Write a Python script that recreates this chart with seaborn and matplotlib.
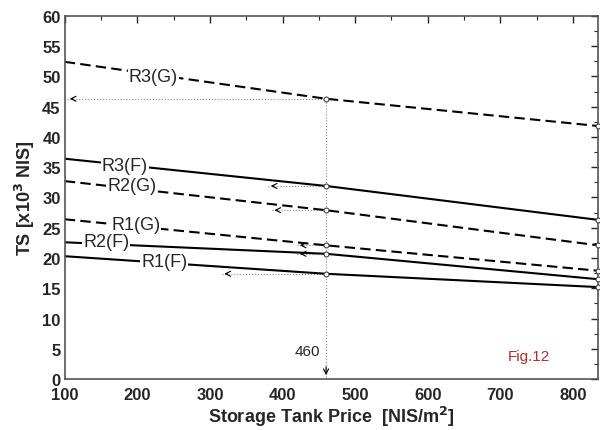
import numpy as np
import pandas as pd
import matplotlib
matplotlib.use('Agg')
import matplotlib.pyplot as plt
import seaborn as sns

# Data (TS in 10^3 NIS vs storage tank price)
price = [100, 460, 835]
r3_g = [52.4, 46.3, 41.8]
r3_f = [36.4, 31.9, 26.3]
r2_g = [32.7, 27.9, 22.1]
r1_g = [26.4, 22.1, 17.9]
r2_f = [22.6, 20.7, 16.5]
r1_f = [20.3, 17.4, 15.2]

series_names = ['R3(G)', 'R3(F)', 'R2(G)', 'R1(G)', 'R2(F)', 'R1(F)']
series_vals = [r3_g, r3_f, r2_g, r1_g, r2_f, r1_f]
# where the inline label sits (x, y) and where the read-off arrow ends
label_pos = [(222, 50.0), (183, 35.3), (192, 32.0), (198, 25.6), (157, 22.8), (237, 19.4)]
arrow_end = [103, 380, 385, 420, 420, 316]
chosen_price = 460

rows = []
for name, vals in zip(series_names, series_vals):
    for p, v in zip(price, vals):
        rows.append({'price': p, 'TS': v, 'series': name})
df = pd.DataFrame(rows)

sns.set_style('white')
plt.rcParams['font.family'] = ['Liberation Sans', 'DejaVu Sans']

fig = plt.figure(figsize=(6, 4.31), dpi=100)
ax = fig.add_axes([0.108, 0.118, 0.889, 0.843])

for name, (lx, ly), xend in zip(series_names, label_pos, arrow_end):
    sub = df[df['series'] == name]
    ls = (0, (5, 2.5)) if '(G)' in name else '-'
    sns.lineplot(data=sub, x='price', y='TS', ax=ax, color='black', lw=1.5,
                 linestyle=ls, zorder=2)
    # open circles at chosen price and at the right end
    ax.plot(sub['price'].iloc[1:], sub['TS'].iloc[1:], 'o', ms=3.5, mfc='white',
            mec='#444444', mew=0.8, zorder=4, clip_on=False)
    y460 = sub['TS'].iloc[1]
    ax.plot([xend, chosen_price], [y460, y460], color='#888888', lw=0.8,
            ls=':', zorder=1)
    ax.annotate('', xy=(xend, y460), xytext=(xend + 12, y460),
                arrowprops=dict(arrowstyle='->', color='black', lw=0.8,
                                mutation_scale=9), zorder=3)
    ax.text(lx, ly, name, fontsize=13, ha='center', va='center', zorder=5,
            bbox=dict(fc='white', ec='none', pad=0.5))

# vertical read-off line at 460
ax.plot([chosen_price, chosen_price], [0.3, r3_g[1]], color='#888888', lw=0.8,
        ls=':', zorder=1)
ax.annotate('', xy=(chosen_price, 0.2), xytext=(chosen_price, 2.5),
            arrowprops=dict(arrowstyle='->', color='black', lw=0.8,
                            mutation_scale=9))
ax.text(chosen_price - 8, 4.6, '460', fontsize=11, ha='right', va='center')
ax.text(740, 3.8, 'Fig.12', fontsize=11, color='#b03030', ha='center', va='center')

ax.set_xlim(100, 835)
ax.set_ylim(0, 60)
ax.set_xticks(np.arange(100, 801, 100))
ax.set_xticks(np.arange(150, 835, 100), minor=True)
ax.set_yticks(np.arange(0, 61, 5))
ax.set_yticks(np.arange(2.5, 60, 5), minor=True)
ax.tick_params(which='both', direction='in', top=True, right=True, labelsize=12)
ax.tick_params(which='major', length=5, width=1)
ax.tick_params(which='minor', length=3, width=0.8)
ax.tick_params(axis='x', pad=6)
ax.tick_params(axis='y', pad=3)
for lab in ax.get_xticklabels() + ax.get_yticklabels():
    lab.set_fontweight('bold')
for sp in ax.spines.values():
    sp.set_color('#555555')
    sp.set_linewidth(1.2)

ax.set_xlabel('Storage Tank Price  [NIS/m$^\\mathbf{2}$]', fontsize=13,
              fontweight='bold', labelpad=1)
ax.set_ylabel('TS [x10$^\\mathbf{3}$ NIS]', fontsize=13, fontweight='bold',
              labelpad=4)

fig.savefig('out.png', dpi=100)
